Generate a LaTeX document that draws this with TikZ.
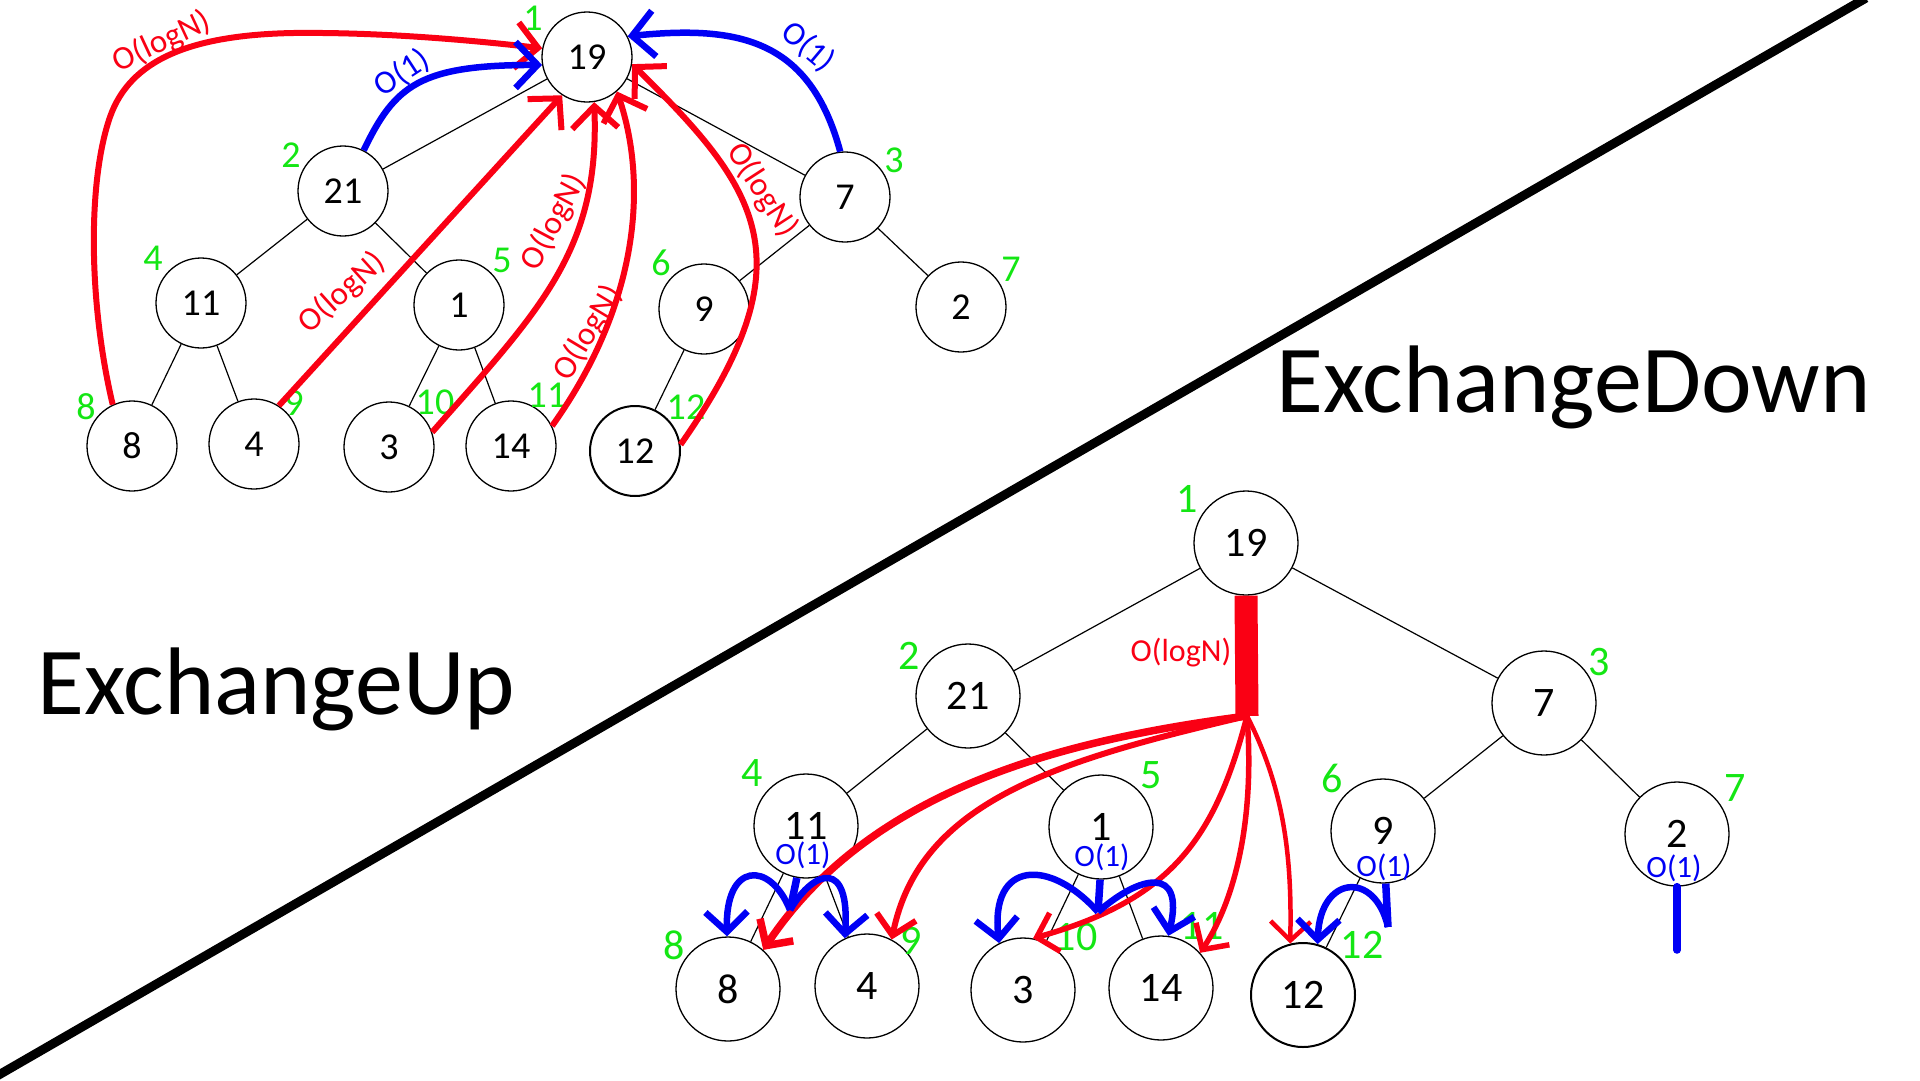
\documentclass[tikz,border=0pt]{standalone}
\usepackage{fontspec}
\setmainfont{Carlito}
\usetikzlibrary{arrows.meta}
\definecolor{idxgreen}{RGB}{20,230,20}
\definecolor{myred}{RGB}{250,0,20}
\definecolor{myblue}{RGB}{0,0,245}
\begin{document}
\begin{tikzpicture}[x=1pt,y=-1pt,
  tn/.style={circle,draw,line width=1.3pt,fill=white,minimum size=90pt,inner sep=0pt,font=\fontsize{38}{38}\selectfont},
  bn/.style={tn,minimum size=104pt,font=\fontsize{42}{42}\selectfont},
  idx/.style={text=idxgreen,inner sep=0pt,font=\fontsize{38}{38}\selectfont},
  bidx/.style={idx,font=\fontsize{42}{42}\selectfont},
  edge/.style={line width=1.2pt},
  redarr/.style={draw=myred,line width=6pt,-{Straight Barb[length=22pt,width=46pt]}},
  bluearr/.style={draw=myblue,line width=6.5pt,-{Straight Barb[length=22pt,width=46pt]}},
  fanarr/.style={draw=myred,-{Straight Barb[length=19pt,width=40pt]}},
  barr/.style={draw=myblue,line width=6.5pt,-{Straight Barb[length=20pt,width=42pt]}},
  stub/.style={draw=myblue,line width=7.5pt},
  cost/.style={inner sep=0pt,font=\fontsize{33}{33}\selectfont},
  bcost/.style={inner sep=0pt,font=\fontsize{31}{31}\selectfont},
  title/.style={anchor=base west,inner sep=0pt,font=\fontsize{96}{96}\selectfont},
]
\useasboundingbox (0,0) rectangle (1920,1080);
\fill[white] (0,0) rectangle (1920,1080);

% diagonal separator
\coordinate (dA) at (-10,1080);
\coordinate (dB) at (1866,-2);
\draw[line width=9pt] (dA) -- (dB);

% titles
\node[title] (tdown) at (1276,412) {ExchangeDown};
\node[title] (tup) at (37,714) {ExchangeUp};

% ===== top tree (ExchangeUp) =====
\node[tn] (t1) at (587,57) {19};
\node[tn] (t2) at (343,191) {21};
\node[tn] (t3) at (845,197) {7};
\node[tn] (t4) at (201,303) {11};
\node[tn] (t5) at (459,305) {1};
\node[tn] (t6) at (704,309) {9};
\node[tn] (t7) at (961,307) {2};
\node[tn] (t8) at (132,446) {8};
\node[tn] (t9) at (254,444) {4};
\node[tn] (t10) at (389,447) {3};
\node[tn] (t11) at (511,446) {14};
\node[tn,line width=2pt] (t12) at (635,451) {12};

\draw[edge] (t1) -- (t2);
\draw[edge] (t1) -- (t3);
\draw[edge] (t2) -- (t4);
\draw[edge] (t2) -- (t5);
\draw[edge] (t3) -- (t6);
\draw[edge] (t3) -- (t7);
\draw[edge] (t4) -- (t8);
\draw[edge] (t4) -- (t9);
\draw[edge] (t5) -- (t10);
\draw[edge] (t5) -- (t11);
\draw[edge] (t6) -- (t12);

\node[idx] (ti1) at (533,18) {1};
\node[idx] (ti2) at (291,155) {2};
\node[idx] (ti3) at (894,160) {3};
\node[idx] (ti4) at (153,258) {4};
\node[idx] (ti5) at (502,260) {5};
\node[idx] (ti6) at (661,263) {6};
\node[idx] (ti7) at (1011,269) {7};
\node[idx] (ti8) at (86,407) {8};
\node[idx] (ti9) at (294,403) {9};
\node[idx] (ti10) at (435,402) {10};
\node[idx] (ti11) at (547,395) {11};
\node[idx] (ti12) at (686,407) {12};

% top arrows
\draw[redarr] (t8.115) .. controls (88,300) and (88,180) .. (110,117)
  .. controls (130,60) and (190,35) .. (293,33)
  .. controls (380,32) and (470,40) .. (t1.169);
\draw[bluearr] (t2.63) .. controls (395,85) and (420,65) .. (t1.190);
\draw[redarr] (t9.57) -- (t1.237);
\draw[redarr] (t10.19) .. controls (540,310) and (600,250) .. (t1.279);
\draw[redarr] (t11.26) .. controls (635,310) and (650,190) .. (t1.311);
\draw[redarr] (t12.8) .. controls (810,260) and (760,190) .. (t1.351);
\draw[bluearr] (t3.96) .. controls (810,40) and (740,25) .. (t1.27);

\node[cost,text=myred,rotate=25] (c1) at (162,42) {O(logN)};
\node[cost,text=myblue,rotate=33] (c2) at (402,73) {O(1)};
\node[cost,text=myblue,rotate=-40] (c3) at (808,47) {O(1)};
\node[cost,text=myred,rotate=42] (c4) at (342,293) {O(logN)};
\node[cost,text=myred,rotate=62] (c5) at (554,222) {O(logN)};
\node[cost,text=myred,rotate=59] (c6) at (588,333) {O(logN)};
\node[cost,text=myred,rotate=-57] (c7) at (762,190) {O(logN)};

% ===== bottom tree (ExchangeDown) =====
\node[bn] (b1) at (1246,543) {19};
\node[bn] (b2) at (968,696) {21};
\node[bn] (b3) at (1544,703) {7};
\node[bn] (b4) at (806,826) {11};
\node[bn] (b5) at (1101,827) {1};
\node[bn] (b6) at (1383,831) {9};
\node[bn] (b7) at (1677,834) {2};
\node[bn] (b8) at (728,989) {8};
\node[bn] (b9) at (867,986) {4};
\node[bn] (b10) at (1023,990) {3};
\node[bn] (b11) at (1161,988) {14};
\node[bn,line width=2pt] (b12) at (1303,995) {12};

\draw[edge] (b1) -- (b2);
\draw[edge] (b1) -- (b3);
\draw[edge] (b2) -- (b4);
\draw[edge] (b2) -- (b5);
\draw[edge] (b3) -- (b6);
\draw[edge] (b3) -- (b7);
\draw[edge] (b4) -- (b8);
\draw[edge] (b4) -- (b9);
\draw[edge] (b5) -- (b10);
\draw[edge] (b5) -- (b11);
\draw[edge] (b6) -- (b12);

\node[bidx] (bi1) at (1187,499) {1};
\node[bidx] (bi2) at (909,656) {2};
\node[bidx] (bi3) at (1599,662) {3};
\node[bidx] (bi4) at (752,773) {4};
\node[bidx] (bi5) at (1151,775) {5};
\node[bidx] (bi6) at (1332,778) {6};
\node[bidx] (bi7) at (1735,788) {7};
\node[bidx] (bi8) at (674,945) {8};
\node[bidx] (bi9) at (911,941) {9};
\node[bidx] (bi10) at (1076,937) {10};
\node[bidx] (bi11) at (1202,926) {11};
\node[bidx] (bi12) at (1362,945) {12};

\node[bcost,text=myblue] (o4) at (803,855) {O(1)};
\node[bcost,text=myblue] (o5) at (1102,857) {O(1)};
\node[bcost,text=myblue] (o6) at (1384,867) {O(1)};
\node[bcost,text=myblue] (o7) at (1674,868) {O(1)};
\node[bcost,text=myred,font=\fontsize{32}{32}\selectfont] (clog) at (1181,653) {O(logN)};

% red bar and fan
\coordinate (S) at (1247,716);
\draw[myred,line width=23pt] (b1.south) -- (S);
\draw[fanarr,line width=7.5pt] (S) .. controls (1060,740) and (870,790) .. (b8.48);
\draw[fanarr,line width=6pt] (S) .. controls (1060,760) and (920,800) .. (b9.62);
\draw[fanarr,line width=5.5pt] (S) .. controls (1215,840) and (1170,900) .. (b10.79);
\draw[fanarr,line width=5.5pt] (S) .. controls (1255,820) and (1235,900) .. (b11.42);
\draw[fanarr,line width=4.5pt] (S) .. controls (1285,790) and (1292,860) .. (b12.104);

% blue O(1) swaps
\coordinate (J4) at (790,910);
\coordinate (J5) at (1098,912);
\coordinate (J6) at (1388,927);
\coordinate (E7) at (1677,950);
\draw[stub] (b4.260) -- (J4);
\draw[barr] (J4) .. controls (770,860) and (725,862) .. (b8.91);
\draw[barr] (J4) .. controls (815,868) and (850,860) .. (b9.115);
\draw[stub] (b5.269) -- (J5);
\draw[barr] (J5) .. controls (1050,858) and (990,860) .. (b10.117);
\draw[barr] (J5) .. controls (1140,875) and (1185,865) .. (b11.82);
\draw[stub] (b6.273) -- (J6);
\draw[barr] (J6) .. controls (1375,870) and (1320,875) .. (b12.74);
\draw[stub,line cap=round] (b7.270) -- (E7);
\end{tikzpicture}
\end{document}
